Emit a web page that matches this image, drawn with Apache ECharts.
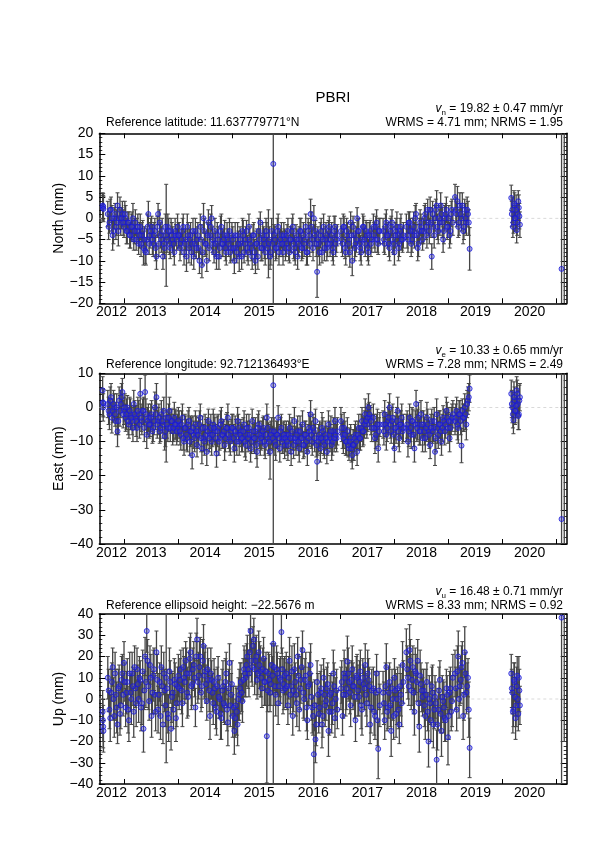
<!DOCTYPE html>
<html><head><meta charset="utf-8">
<script src="https://cdn.jsdelivr.net/npm/echarts@6/dist/echarts.min.js"></script>
<style>html,body{margin:0;padding:0;background:#fff}#c{width:595px;height:842px}</style>
</head><body><div id="c"></div>
<script>
// ---------------- data (decimal years, mm) ----------------
const epochs = [
2012.605,2012.61,2012.615,2012.62,
2012.70,2012.73,2012.76,2012.79,2012.82,2012.85,2012.88,2012.91,2012.94,2012.97,
2013.00,2013.03,2013.06,2013.09,2013.12,2013.15,2013.18,2013.21,2013.24,2013.27,2013.30,2013.33,2013.36,2013.39,2013.42,2013.45,2013.48,2013.51,2013.54,2013.57,2013.60,2013.63,2013.66,2013.69,2013.72,2013.75,2013.78,2013.81,2013.84,2013.87,2013.90,2013.93,2013.96,2013.99,
2014.02,2014.05,2014.08,2014.11,2014.14,2014.17,2014.20,2014.23,2014.26,2014.29,2014.32,2014.35,2014.38,2014.41,2014.44,2014.47,2014.50,2014.53,2014.56,2014.59,2014.62,2014.65,2014.68,2014.71,2014.74,2014.77,2014.80,2014.83,2014.86,2014.89,2014.92,2014.95,2014.98,
2015.01,2015.04,2015.07,2015.10,2015.13,2015.16,2015.19,2015.22,2015.25,2015.28,2015.31,2015.34,2015.37,2015.40,2015.43,2015.46,2015.49,2015.52,2015.55,2015.58,2015.61,2015.64,2015.67,2015.70,2015.73,2015.76,2015.79,2015.82,2015.85,2015.88,2015.91,2015.94,2015.97,
2016.00,2016.03,2016.06,2016.09,2016.12,2016.15,2016.18,2016.21,2016.24,2016.27,2016.30,2016.33,2016.36,2016.39,2016.42,2016.45,2016.48,2016.51,2016.54,2016.57,2016.60,2016.63,2016.66,2016.69,2016.72,2016.75,2016.78,2016.81,2016.84,2016.87,2016.90,2016.93,
2017.01,2017.04,2017.07,2017.10,2017.13,2017.16,2017.19,2017.22,2017.25,2017.28,2017.31,2017.34,2017.37,2017.40,2017.43,2017.46,2017.49,2017.52,2017.55,2017.58,
2017.61,2017.64,2017.67,2017.70,2017.73,
2017.79,2017.82,2017.85,2017.88,2017.91,2017.94,2017.97,2018.00,2018.03,2018.06,2018.09,2018.12,2018.15,
2018.22,2018.25,2018.28,2018.31,2018.34,2018.37,2018.40,2018.43,2018.46,2018.49,2018.52,
2018.54,2018.57,2018.60,2018.63,2018.66,2018.69,2018.72,2018.75,2018.78,2018.81,2018.84,2018.87,2018.90,2018.93,2018.96,2018.99,2019.02,2019.05,2019.08,
2019.12,2019.15,2019.18,2019.21,2019.24,2019.27,2019.30,2019.33,2019.36,2019.39,
2020.16,2020.18,2020.20,2020.22,2020.24,2020.26,2020.28,2020.30,2020.32,
2021.09,2021.14
];
const north = [
3,2.4,2.8,2.2,
1,-1,2,-4,0,-2,3,0,-1,1,
-2,0,-3,-1,-4,-2,-5,-1,-3,-6,-2,-4,-7,-7.6,-5,1,-4,-2,-6,-3,-9,1,-1,-5,-9,-7,-4,-2,-6,-3,-5,-8,-4,-2,
-4,-6,-3,-8,-5,-2,-7,-4,-6,-9,-3,-5,-7,-2,-11,0,-6,-10,-1,-4,0,-6,-3,-9,-5,-7,-2,-6,-4,-8,-5,-3,-7,
-5,-10,-7,-4,-9,-6,-3,-8,-5,-7,-2,-6,-9,-4,-10,-6,-3,-1,-7,-5,-8,-4,-6,-9,-3,12.8,-5,-7,-2,-6,-4,-8,-5,
-6,-3,-8,-5,-2,-7,-4,-9,-5,-3,-7,-6,-2,-8,-4,1,-5,0,-3,-12.6,-6,-4,-8,-2,-5,-7,-3,-6,-4,-8,-2,-5,
-3,-6,-2,-8,-4,-5,-1,-10,-4,-6,0,-3,-7,-5,-2,-6,-4,-8,-3,-5,
-2,-5,-1,-6,-3,
-3,-6,-1,-4,-7,-2,-5,-8,-3,-4,-6,-2,-5,
-2,-5,-1,-6,-3,-4,1,-7,-3,-2,-5,
-3,1,-4,-1,2,-9,-2,0,3,-3,-1,1,-5,0,2,-2,-4,1,-1,
5,1,-2,3,0,-3,2,-1,1,-7.2,
4.8,2,-1,3,0,-2.8,1,2.5,-1.5,
-11.9,30
];
const northErr = [
3,3,3,3,
3,2.5,3,3.5,2.5,3,3,2.5,3,3,
2.5,3,3,2.5,3,3.5,2.5,3,3,2.5,3,3,4,3,2.5,3,3,2.5,3,3,3,2.5,3,3,3,2.5,12,3,2.5,3,3,3,2.5,3,
3,2.5,3,3,2.5,3,3.5,3,2.5,3,3,3,2.5,3,3,3.5,3,2.5,3,3,3,2.5,3,3,3,2.5,3,3,3.5,3,2.5,3,3,
3,3,2.5,3,3.5,3,3,2.5,3,3,3,2.5,3,3,3,3.5,3,2.5,3,3,3,3,8,3,3,60,3,2.5,3,3,3,3,2.5,
3,3,2.5,3,3,3,2.5,3,3,3,2.5,3,3,3,3,3.5,3,3,2.5,6,3,3,2.5,3,3,3,2.5,3,3,3,2.5,3,
3,3,2.5,3,3,3,2.5,3.5,3,3,2.5,3,3,3,2.5,3,3,3,2.5,3,
3,3,3,2.5,3,
3,2.5,3,3,3,2.5,3,3,3,2.5,3,3,3,
3,3,2.5,3,3,3,2.5,3,3,3,2.5,
3,2.5,3,3,3,3,2.5,3,3.5,3,3,2.5,3,3,3,2.5,3,3,3,
3,3,2.5,3,3,3,2.5,3,3,5,
3,3,2.5,3,3,3,2.5,3,3,
80,80
];
const east = [
5,1.5,0,1.2,
1,-2,3,-1,0,-4,-7,2,1,4.5,
-1,-3,0,-5,-2,-4,1,-3,-6,-2,4,-4,-1,4.5,-8,-3,-5,-2,-6,0,3,-4,-7,-2,-5,-8.5,-3,-6,-1,-4,-7,-3,-5,-6,
-5,-8,-3,-10,-6,-9,-4,-7,-14,-8,-5,-11,-7,-3,-12,-9,-6,-13,-4,-8,-10,-5,-7,-13.5,-6,-9,-4,-8,-11,-6,-3,-9,-7,
-6,-12,-8,-4,-10,-7,-9,-5,-11,-8,-6,-12,-4,-9,-7,-13,-5,-10,-8,-6,-11,-3,-9,-13,-7,6.5,-10,-8,-3,-12,-6,-9,-11,
-8,-11,-6,-13,-9,-4,-10,-7,-12,-9,-5,-11,-8,-13,-6,-2,-10,-7,-4,-15.9,-9,-12,-6,-10,-8,-13,-5,-9,-11,-7,-4,-9,
-4,-8,-6,-10,-7,-12,-9,-14,-11,-8,-13,-6,-9,-4,-7,-2,-5,0,-3,-6,
-3,-9,-6,-12,-5,
-5,-2,-8,-4,0,-7,-3,-12,-6,-1,-9,-5,-7,
-6,-10,-3,-8,-4,-12,1,-5,-7,-2,-9,
-5,-9,-3,-7,-11,-4,-6,-13,-2,-8,-5,-10,-3,-7,-1,-6,-9,-4,-2,
-4,-1,-6,-2,-11.2,-3,0,-5,2,5.5,
4,0,-3.7,2,-1,5,1,-2,3,
-32.7,25
];
const eastErr = [
4,4,4,4,
4,4.5,4,3.5,4,4,4.5,4,4,4,
4,4,3.5,4,4.5,4,4,3.5,4,4,4.5,4,4,5,4,4,3.5,4,4,4.5,4,4,3.5,4,4,4,13,4,4,3.5,4,4.5,4,4,
4,4.5,4,4,3.5,4,4,4.5,4,4,4,3.5,4,4,4.5,4,4,4,3.5,4,4,4.5,4,4,4,3.5,4,4,4.5,4,4,4,3.5,
4,4,4.5,4,4,3.5,4,4,4.5,4,4,4,3.5,4,4,4.5,4,4,4,3.5,4,4,4.5,8,4,60,4,4,3.5,4,4,4.5,4,
4,4.5,4,4,3.5,4,4,4.5,4,4,4,3.5,4,4,4.5,4,4,4,3.5,5.5,4,4,4.5,4,4,3.5,4,4,4.5,4,4,4,
4,4,4.5,4,4,3.5,4,4,4.5,4,4,4,3.5,4,4,4.5,4,4,3.5,4,
4,4.5,4,4,3.5,
4,4,4.5,4,4,3.5,4,4,4.5,4,4,4,3.5,
4,4.5,4,4,3.5,4,4,4.5,4,4,4,
4,4,4.5,4,4,3.5,4,4,4.5,4,4,4,3.5,4,4,4.5,4,4,4,
4,4,4.5,4,5,4,4,4.5,4,4,
4,4.5,4,4,3.5,4,4,4.5,4,
80,80
];
const up = [
-6,-10,-13,-15,
10,-5,3,15,-8,2,-12,6,-3,12,
17,-4,8,-10,3,12,-6,5,14,0,9,-2,-14,20,32,6,16,-8,11,2,22,-5,8,15,-12,4,10,-7,13,-14,3,9,-9,6,
5,14,-2,10,18,3,12,22,7,16,-4,28,11,20,6,25,13,-1,9,-8,9,-2,5,-6,10,0,-9,6,-3,12,-11,17,2,
-8,-15,-3,-12,2,8,-1,14,10,20,12,32,15,28,18,9,22,13,5,19,8,-17.5,12,3,16,26,6,14,-2,10,31.5,4,11,
12,-3,18,6,-8,14,2,20,-5,9,23,0,11,-10,7,16,-4,-26,-19,8,-7,3,-12,10,-3,5,-15,2,-6,12,-9,4,
5,-8,12,2,17.6,8,-3,14,6,-10,10,1,13,-5,7,16,-2,9,-12,4,
5,-8,12,-23.5,-3,
3,-10,15,-4,8,-15,0,10,-7,5,-12,2,16,
22,10,23,4,15,-6,12,18,-13,7,1,
4,-8,8,-20,-2,6,-12,1,-28.6,-5,9,-15,-1,-9,5,-18,3,-6,10,
12,-5,20,6,15,-8,22,3,10,-23,
12,3,-5,8,-9,6,0,10,-3,
38.3,60
];
const upErr = [
10,10,10,10,
10,9,11,9,10,12,9,10,11,9,
10,9,11,10,9,10,12,9,10,11,9,10,11,9,10,11,9,10,12,9,10,11,9,10,9,10,40,9,11,10,9,10,11,9,
10,9,11,10,9,12,10,9,10,11,9,10,11,9,10,10,12,9,10,11,9,10,9,11,10,9,10,12,9,10,11,9,10,
10,11,9,10,12,9,10,11,9,10,11,10,9,10,11,9,10,12,9,10,11,22,10,9,10,70,9,11,10,9,10,11,9,
10,9,11,10,9,12,10,9,10,11,9,10,11,9,10,10,12,14,11,10,9,10,11,9,10,10,12,9,10,11,9,10,
10,9,11,10,12,9,10,11,9,10,11,9,10,12,9,10,11,10,9,10,
10,11,9,14,10,
10,9,11,10,9,12,10,9,11,10,9,10,11,
11,10,12,9,10,11,9,10,12,10,9,
10,11,9,12,10,9,11,10,14,10,9,12,10,11,9,13,10,9,11,
11,10,12,9,10,11,12,10,9,14,
9,10,8,9,10,9,8,10,9,
80,80
];
// second (interleaved) set of daily solutions
const epochs2 = [
2012.715,2012.745,2012.775,2012.805,2012.835,2012.865,2012.895,2012.925,2012.955,2012.985,
2013.015,2013.045,2013.075,2013.105,2013.135,2013.165,2013.195,2013.225,2013.255,2013.285,2013.315,2013.345,2013.375,2013.405,2013.435,2013.465,2013.495,2013.525,2013.555,2013.585,2013.615,2013.645,2013.675,2013.705,2013.735,2013.765,2013.795,2013.825,2013.855,2013.885,2013.915,2013.945,2013.975,2014.005,
2014.035,2014.065,2014.095,2014.125,2014.155,2014.185,2014.215,2014.245,2014.275,2014.305,2014.335,2014.365,2014.395,2014.425,2014.455,2014.485,2014.515,2014.545,2014.575,2014.605,2014.635,2014.665,2014.695,2014.725,2014.755,2014.785,2014.815,2014.845,2014.875,2014.905,2014.935,2014.965,2014.995,
2015.025,2015.055,2015.085,2015.115,2015.145,2015.175,2015.205,2015.235,2015.265,2015.295,2015.325,2015.355,2015.385,2015.415,2015.445,2015.475,2015.505,2015.535,2015.565,2015.595,2015.625,2015.655,2015.685,2015.715,2015.745,2015.775,2015.805,2015.835,2015.865,2015.895,2015.925,2015.955,2015.985,
2016.015,2016.045,2016.075,2016.105,2016.135,2016.165,2016.195,2016.225,2016.255,2016.285,2016.315,2016.345,2016.375,2016.405,2016.435,2016.465,2016.495,2016.525,2016.555,2016.585,2016.615,2016.645,2016.675,2016.705,2016.735,2016.765,2016.795,2016.825,2016.855,2016.885,2016.915,2016.945,
2017.025,2017.055,2017.085,2017.115,2017.145,2017.175,2017.205,2017.235,2017.265,2017.295,2017.325,2017.355,2017.385,2017.415,2017.445,2017.475,2017.505,2017.535,2017.565,
2017.625,2017.655,2017.685,2017.715,
2017.805,2017.835,2017.865,2017.895,2017.925,2017.955,2017.985,2018.015,2018.045,2018.075,2018.105,2018.135,2018.165,
2018.235,2018.265,2018.295,2018.325,2018.355,2018.385,2018.415,2018.445,2018.475,2018.505,
2018.555,2018.585,2018.615,2018.645,2018.675,2018.705,2018.735,2018.765,2018.795,2018.825,2018.855,2018.885,2018.915,2018.945,2018.975,2019.005,2019.035,2019.065,
2019.135,2019.165,2019.195,2019.225,2019.255,2019.285,2019.315,2019.345,2019.375,
2020.17,2020.19,2020.21,2020.23,2020.25,2020.27,2020.29,2020.31
];
const north2 = [
-2,2,0,-3,1,-1,-3,2,0,-1,
1,-3,-1,-4,-2,0,-3,-5,-2,-4,-6,-3,-5,-8,-2,-6,-3,-5,-4,-7,-2,-6,-4,-3,-6,-2,-5,-3,-7,-4,-6,-3,-5,-4,
-7,-5,-2,-6,-9,-4,-5,-8,-3,-6,-7,-4,-10,-5,-8,-3,-6,-4,-7,-2,-5,-8,-6,-4,-9,-3,-6,-5,-7,-4,-6,-8,-4,
-7,-4,-8,-6,-5,-9,-4,-6,-3,-8,-5,-7,-4,-8,-6,-9,-5,-7,-4,-6,-3,-7,-5,-8,-6,-4,-7,-3,-8,-5,-6,-4,-7,
-4,-7,-5,-3,-6,-8,-5,-6,-3,-7,-4,-5,-8,-3,-6,-2,-7,-4,-6,-5,-8,-3,-5,-7,-4,-6,-2,-5,-7,-3,-6,-4,
-5,-2,-7,-3,-6,-8,-4,-2,-7,-5,-3,-6,-8,-2,-5,-3,-7,-4,-6,
-4,-2,-5,-3,
-5,-2,-4,-6,-3,-1,-6,-4,-2,-7,-3,-5,-4,
-4,-1,-3,-5,-2,0,-4,-6,-1,-3,
0,-2,2,-3,-1,1,-4,2,-2,0,3,-1,-3,1,-2,0,-3,2,
2,4,-1,1,3,-2,0,2,-1,
1,-2,3.5,0,2,-1,4,0.5
];
const north2Err = [
3,2.5,3,3,2.5,3,3.5,3,2.5,3,
3,3,2.5,3,3,3.5,3,2.5,3,3,3,2.5,3,3,3,2.5,3,3.5,3,3,2.5,3,3,3,2.5,3,3,3,2.5,3,3,3,2.5,3,
3,2.5,3,3,3.5,3,2.5,3,3,3,2.5,3,3,3.5,3,3,2.5,3,3,3,3,2.5,3,3,3,3.5,3,2.5,3,3,3,2.5,3,
3,3,2.5,3,3,3,3.5,3,2.5,3,3,3,2.5,3,3,3,2.5,3,3,3.5,3,2.5,3,3,3,2.5,3,3,3,2.5,3,3,3,
2.5,3,3,3,3.5,3,2.5,3,3,3,3,2.5,3,3,3,3.5,3,2.5,3,3,3,3,2.5,3,3,3,2.5,3,3,3.5,3,2.5,
3,3,2.5,3,3,3.5,3,2.5,3,3,3,2.5,3,3,3,2.5,3,3,3,
3,2.5,3,3,
3,3,2.5,3,3,3,2.5,3,3.5,3,3,2.5,3,
3,2.5,3,3,3.5,3,2.5,3,3,3,
3,3,2.5,3,3.5,3,3,2.5,3,3,3,3.5,3,2.5,3,3,3,2.5,
3,3.5,3,2.5,3,3,3.5,3,3,
3,2.5,3,3,3.5,3,2.5,3
];
const east2 = [
-1,2,-3,1,-2,0,-4,-1,3,-2,
0,-2,-4,-1,-3,-6,-2,-4,-1,-5,-3,-1,-6,-2,-4,-5,-3,-7,-4,-2,-5,-3,-6,-4,-1,-7,-5,-3,-6,-4,-6,-5,-7,-4,
-7,-5,-9,-6,-8,-5,-10,-7,-6,-9,-7,-8,-5,-9,-6,-10,-8,-7,-9,-6,-8,-6,-9,-7,-10,-5,-8,-7,-9,-6,-8,-10,-6,
-9,-7,-10,-6,-8,-9,-7,-10,-6,-9,-8,-10,-7,-9,-11,-6,-8,-9,-7,-10,-8,-6,-10,-8,-9,-7,-11,-8,-9,-7,-10,-8,-9,
-10,-8,-9,-7,-11,-9,-8,-10,-7,-9,-11,-8,-10,-9,-7,-8,-6,-9,-11,-10,-8,-9,-7,-11,-9,-10,-8,-7,-10,-9,-8,-7,
-6,-9,-8,-10,-11,-10,-12,-11,-9,-10,-8,-9,-6,-7,-5,-4,-3,-2,-4,
-6,-8,-5,-7,
-7,-5,-6,-3,-5,-4,-8,-6,-4,-7,-5,-3,-6,
-5,-7,-6,-4,-8,-5,-6,-3,-7,-5,
-7,-6,-5,-8,-6,-7,-4,-9,-6,-5,-7,-6,-4,-5,-3,-4,-6,-3,
-3,-5,-2,-4,-1,-3,-2,1,3,
1,-2,3,-1,0.5,4,-2.5,2
];
const east2Err = [
4,4,4.5,4,3.5,4,4,4.5,4,4,
4,4.5,4,4,3.5,4,4,4.5,4,4,4,3.5,4,4.5,4,4,4,3.5,4,4.5,4,4,4,3.5,4,4.5,4,4,4,3.5,4,4.5,4,4,
4,4,3.5,4,4.5,4,4,4,3.5,4,4.5,4,4,4,3.5,4,4.5,4,4,4,3.5,4,4,4.5,4,4,4,3.5,4,4.5,4,4,4,
4,4.5,4,4,3.5,4,4,4.5,4,4,4,3.5,4,4.5,4,4,4,3.5,4,4,4.5,4,4,4,3.5,4,4.5,4,4,4,3.5,4,4,
4,4,4.5,4,4,3.5,4,4,4.5,4,4,4,3.5,4,4.5,4,4,4,3.5,4,4,4.5,4,4,3.5,4,4,4.5,4,4,4,4,
4,4.5,4,4,3.5,4,4,4.5,4,4,4,3.5,4,4.5,4,4,4,3.5,4,
4,4,4.5,4,
4,3.5,4,4.5,4,4,4,3.5,4,4.5,4,4,4,
4,4.5,4,4,3.5,4,4,4.5,4,4,
4,4,4.5,4,4,3.5,4,4,4.5,4,4,4,3.5,4,4.5,4,4,4,
4,4.5,4,4,3.5,4,4.5,4,4,
4,4,4.5,4,3.5,4,4,4.5
];
const up2 = [
4,-9,8,0,12,-4,5,-7,9,2,
8,3,-5,12,0,6,15,-2,7,10,-4,13,4,8,18,-1,10,3,14,-6,9,2,-8,6,12,-3,5,-9,8,1,-5,7,-2,11,
9,4,15,8,12,1,19,6,14,10,20,8,15,3,18,11,7,14,4,12,3,8,-4,6,1,-7,4,-2,8,-5,5,-3,7,
-4,-9,-6,0,5,3,9,12,16,14,22,18,25,14,20,12,16,10,14,8,13,4,9,7,11,15,2,12,6,9,14,7,5,
6,10,2,13,4,8,-2,11,5,15,3,9,-4,6,12,1,-8,-3,-12,2,-4,5,-8,2,-1,7,-6,3,-2,6,0,-5,
8,2,10,5,12,3,9,6,1,11,4,8,-3,10,5,2,12,6,-4,
-6,3,-10,4,
-2,6,-6,3,-3,5,-8,4,0,-5,6,-2,8,
14,6,18,9,3,13,8,-2,11,4,
-3,2,-6,0,-10,3,-5,-2,-12,4,-7,1,-4,-10,2,-8,5,-1,
5,13,0,9,17,2,12,6,-5,
5,-6,9,1,-3,11,-7,4
];
const up2Err = [
10,11,9,10,10,12,9,10,11,10,
9,10,11,10,12,9,10,11,9,10,11,10,9,12,10,9,11,10,10,9,12,10,11,9,10,10,9,11,10,12,9,10,11,10,
10,11,9,10,12,9,10,11,10,9,11,10,12,9,10,11,9,10,10,12,9,11,10,9,10,12,10,9,11,10,9,10,11,
10,9,11,10,12,9,10,11,10,9,11,10,9,12,10,10,11,9,10,11,9,10,12,10,9,11,10,10,9,11,10,12,9,
11,10,9,12,10,9,11,10,10,9,12,10,11,9,10,11,9,12,10,10,9,11,10,12,9,10,11,9,10,11,10,9,
10,11,9,10,12,10,9,11,10,9,12,10,11,9,10,10,11,9,12,
11,10,12,9,
10,11,9,12,10,9,11,10,12,9,10,11,10,
11,9,10,12,10,11,9,10,12,10,
10,12,9,11,10,13,9,10,12,11,9,10,12,10,9,11,10,12,
10,12,9,11,10,12,10,11,13,
9,10,8,9,10,9,8,10
];
// axis ticks / labels
const yearTicks = [2013,2014,2015,2016,2017,2018,2019,2020,2021];
const yearLabelPos = [2012.77,2013.5,2014.5,2015.5,2016.5,2017.5,2018.5,2019.5,2020.5];
const panelNames = ['North (mm)','East (mm)','Up (mm)'];
const yMins = [-20,-40,-40];
const yMaxs = [20,10,40];
const yIntervals = [5,10,10];
const rates = ['19.82 ± 0.47','10.33 ± 0.65','16.48 ± 0.71'];
const rateSub = ['n','e','u'];
const wrms = ['4.71','7.28','8.33'];
const nrms = ['1.95','2.49','0.92'];
const refTexts = ['Reference latitude: 11.637779771°N','Reference longitude: 92.712136493°E','Reference ellipsoid height: −22.5676 m'];
const XMIN = 2012.543, XMAX = 2021.185;

// ---------------- chart ----------------
const FONT = 'Liberation Sans, Arial, Helvetica, sans-serif';
const chart = echarts.init(document.getElementById('c'), null, {renderer:'canvas'});
const gridDefs = [
  {left:99.3, top:133.3, width:467.4, height:170},
  {left:99.3, top:373.3, width:467.4, height:170.7},
  {left:99.3, top:614, width:467.4, height:170}
];
const comps = [
  [north, northErr, north2, north2Err],
  [east, eastErr, east2, east2Err],
  [up, upErr, up2, up2Err]
];
const ERR_COLOR = '#454545';
function renderErr(params, api) {
  const cs = params.coordSys;
  const x = api.value(0), v = api.value(1), e = api.value(2);
  const px = api.coord([x, v])[0];
  const yHi = api.coord([x, v + e])[1], yLo = api.coord([x, v - e])[1];
  const top = cs.y, bot = cs.y + cs.height;
  if (yLo < top || yHi > bot) return null;
  const st = {stroke: ERR_COLOR, lineWidth: 1.3};
  const cst = {stroke: ERR_COLOR, lineWidth: 1};
  const ch = [{type:'line', shape:{x1:px, y1:Math.max(yHi, top), x2:px, y2:Math.min(yLo, bot)}, style:st}];
  if (yHi >= top) ch.push({type:'line', shape:{x1:px-2, y1:yHi, x2:px+2, y2:yHi}, style:cst});
  if (yLo <= bot) ch.push({type:'line', shape:{x1:px-2, y1:yLo, x2:px+2, y2:yLo}, style:cst});
  return {type:'group', children:ch};
}
const xAxes = [], yAxes = [], series = [];
const yFmt = v => String(v).replace('-', '\u2212');
const problems = [];
gridDefs.forEach((g, i) => {
  const axLine = {show:true, onZero:false, lineStyle:{color:'#000', width:1.5}};
  xAxes.push({gridIndex:i, type:'value', min:XMIN, max:XMAX, position:'bottom',
    axisLine:axLine, splitLine:{show:false},
    axisTick:{show:true, inside:true, length:5, customValues:yearTicks, lineStyle:{color:'#000', width:1}},
    axisLabel:{show:true, customValues:yearLabelPos, formatter:v => String(Math.floor(v + 1e-6)), fontSize:14, fontFamily:FONT, color:'#000', margin:2}});
  xAxes.push({gridIndex:i, type:'value', min:XMIN, max:XMAX, position:'top',
    axisLine:axLine, splitLine:{show:false},
    axisTick:{show:true, inside:true, length:5, customValues:yearTicks, lineStyle:{color:'#000', width:1}},
    axisLabel:{show:false}});
  const yBase = {gridIndex:i, type:'value', min:yMins[i], max:yMaxs[i], interval:yIntervals[i],
    axisLine:axLine, splitLine:{show:false},
    axisTick:{show:true, inside:true, length:6, lineStyle:{color:'#000', width:1}},
    minorTick:{show:true, splitNumber:5, length:3, lineStyle:{color:'#000', width:0.8}}};
  yAxes.push(Object.assign({}, yBase, {position:'left',
    axisLabel:{show:true, formatter:yFmt, fontSize:14, fontFamily:FONT, color:'#000', margin:6},
    name:panelNames[i], nameLocation:'middle', nameGap:33, nameMoveOverlap:false,
    nameTextStyle:{fontSize:14, fontFamily:FONT, color:'#000'}}));
  yAxes.push(Object.assign({}, yBase, {position:'right', axisLabel:{show:false}}));
  const [vals, errs, vals2, errs2] = comps[i];
  if (vals.length !== epochs.length || errs.length !== epochs.length) problems.push('set1 comp' + i + ': ' + epochs.length + '/' + vals.length + '/' + errs.length);
  if (vals2.length !== epochs2.length || errs2.length !== epochs2.length) problems.push('set2 comp' + i + ': ' + epochs2.length + '/' + vals2.length + '/' + errs2.length);
  const d = epochs.map((t, k) => [t, vals[k], errs[k]]).concat(epochs2.map((t, k) => [t, vals2[k], errs2[k]]));
  series.push({type:'line', xAxisIndex:2*i, yAxisIndex:2*i, data:[[XMIN,0],[XMAX,0]],
    showSymbol:false, silent:true, z:1, lineStyle:{color:'#d0d0d0', width:0.8, type:[3,3]}});
  series.push({type:'custom', xAxisIndex:2*i, yAxisIndex:2*i, renderItem:renderErr,
    data:d, encode:{x:0, y:1}, z:2, silent:true, animation:false});
  series.push({type:'scatter', xAxisIndex:2*i, yAxisIndex:2*i, data:d.map(p => [p[0], p[1]]),
    symbol:'circle', symbolSize:5, clip:true, z:3, silent:true,
    itemStyle:{color:'rgba(60,60,220,0.45)', borderColor:'#1818d8', borderWidth:1}});
});
const graphics = [];
const tStyle = (txt, align, size) => ({text:txt, fontSize:size||12, fontFamily:FONT, fill:'#000', textAlign:align, textVerticalAlign:'middle'});
graphics.push({type:'text', x:333, y:98, style:tStyle('PBRI', 'center', 15)});
const rateY = [109, 351, 592];
const infoY = [123, 365, 606];
for (let i = 0; i < 3; i++) {
  graphics.push({type:'text', x:563, y:rateY[i], style:{
    text:'{v|v}{s|' + rateSub[i] + '}{t| = ' + rates[i] + ' mm/yr}',
    textAlign:'right', textVerticalAlign:'middle', fill:'#000',
    rich:{
      v:{fontSize:12, fontStyle:'italic', fontFamily:FONT, lineHeight:16, verticalAlign:'middle'},
      s:{fontSize:8, fontFamily:FONT, lineHeight:16, verticalAlign:'bottom'},
      t:{fontSize:12, fontFamily:FONT, lineHeight:16, verticalAlign:'middle'}
    }}});
  graphics.push({type:'text', x:563, y:infoY[i], style:tStyle('WRMS = ' + wrms[i] + ' mm; NRMS = ' + nrms[i], 'right')});
  graphics.push({type:'text', x:106, y:infoY[i], style:tStyle(refTexts[i], 'left')});
}
if (problems.length) graphics.push({type:'text', x:10, y:20, style:{text:problems.join(' | '), fontSize:11, fill:'red'}});
chart.setOption({
  animation:false,
  backgroundColor:'#fff',
  grid:gridDefs.map(g => Object.assign({containLabel:false}, g)),
  xAxis:xAxes, yAxis:yAxes, series:series, graphic:graphics
});
</script></body></html>
